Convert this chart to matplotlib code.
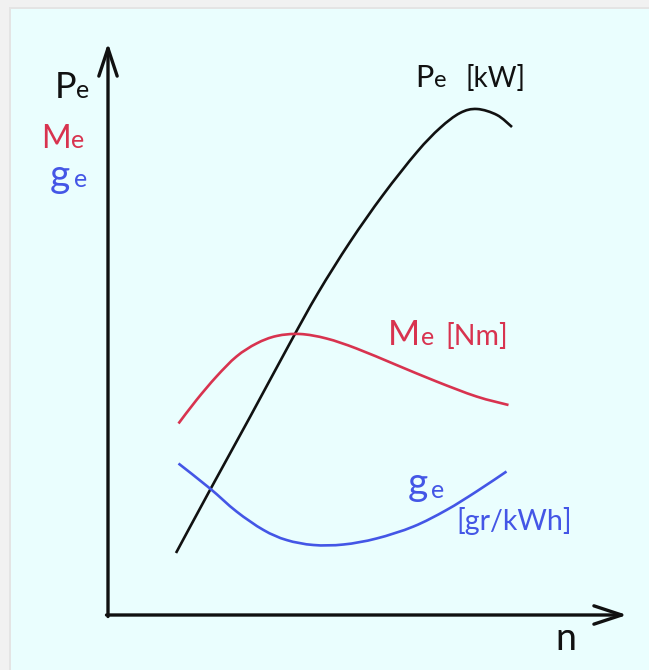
import matplotlib
matplotlib.use("Agg")
import matplotlib.pyplot as plt
import numpy as np
from matplotlib.patches import Rectangle, PathPatch
from matplotlib.path import Path

# ---- data (n in arbitrary units, values in arbitrary units) ----
pe_n = [13.6, 20.4, 28.4, 36.4, 42.0, 48.4, 55.0, 61.8, 66.4, 70.4, 73.8, 77.8, 80.8]
pe_v = [12.4, 25.0, 39.6, 54.4, 64.4, 74.6, 84.0, 92.6, 97.4, 100.4, 101.2, 100.0, 97.6]

me_n = [14.1, 17.7, 21.7, 25.7, 29.7, 33.7, 38.4, 43.7, 49.7, 57.7, 65.7, 73.7, 80.1]
me_v = [38.3, 43.0, 47.7, 51.7, 54.3, 55.8, 56.2, 55.3, 53.3, 50.0, 46.7, 43.7, 42.0]

ge_n = [14.1, 20.4, 25.7, 31.1, 35.7, 41.1, 47.1, 53.7, 61.1, 67.7, 73.7, 79.7]
ge_v = [30.3, 25.3, 20.7, 17.0, 15.0, 14.0, 14.1, 15.3, 17.7, 21.0, 24.7, 28.7]

BLACK = "#111111"
RED = "#d8334f"
BLUE = "#4456e6"
BG = "#eafefe"
FONT = "Lato"

fig = plt.figure(figsize=(6.49, 6.70), dpi=100)
fig.patch.set_facecolor("#f1f1f1")
# panel background
fig.patches.append(Rectangle((11 / 649, 0), 1, 1 - 9 / 670, transform=fig.transFigure,
                             facecolor=BG, edgecolor="none", zorder=-2))
fig.patches.append(Rectangle((9 / 649, 0), 2 / 649, 1 - 7 / 670, transform=fig.transFigure,
                             facecolor="#e4e4e4", edgecolor="none", zorder=-3))
fig.patches.append(Rectangle((9 / 649, 1 - 9 / 670), 1, 2 / 670, transform=fig.transFigure,
                             facecolor="#e4e4e4", edgecolor="none", zorder=-3))

ax = fig.add_axes([0, 0, 1, 1])
ax.set_facecolor("none")
ax.set_xlim(-21.6, 108.2)
ax.set_ylim(-11, 123)
ax.axis("off")

# axes with arrows
arrow = dict(arrowstyle="->,head_length=1.0,head_width=0.33", lw=2.4, color=BLACK,
             mutation_scale=20, shrinkA=0, shrinkB=0)
ax.annotate("", xy=(0, 114.4), xytext=(0, -0.3), arrowprops=arrow)
ax.annotate("", xy=(103.8, 0), xytext=(-0.3, 0), arrowprops=arrow)


def smooth_curve(xs, ys, color):
    """Smooth curve through the given points (Catmull-Rom drawn as Bezier path)."""
    p = np.column_stack([xs, ys]).astype(float)
    ext = np.vstack([p[0], p, p[-1]])
    verts = [tuple(p[0])]
    codes = [Path.MOVETO]
    for i in range(len(p) - 1):
        p0, p1, p2, p3 = ext[i], ext[i + 1], ext[i + 2], ext[i + 3]
        c1 = p1 + (p2 - p0) / 6.0
        c2 = p2 - (p3 - p1) / 6.0
        verts += [tuple(c1), tuple(c2), tuple(p2)]
        codes += [Path.CURVE4] * 3
    ax.add_patch(PathPatch(Path(verts, codes), facecolor="none", edgecolor=color,
                           lw=1.9, capstyle="butt"))


smooth_curve(pe_n, pe_v, BLACK)
smooth_curve(me_n, me_v, RED)
smooth_curve(ge_n, ge_v, BLUE)


def px(x, y):
    """pixel position (from top-left) -> data position"""
    return (x - 108) / 5.0, (615 - y) / 5.0


def lab(x, y, s, c, size):
    dx, dy = px(x, y)
    ax.text(dx, dy, s, color=c, fontsize=size, family=FONT, ha="left", va="baseline")


# y-axis labels
lab(55, 98, "P", BLACK, 26)
lab(76, 98, "e", BLACK, 18)
lab(41, 148, "M", RED, 23)
lab(71, 148, "e", RED, 18)
lab(50, 187, "g", BLUE, 28)
lab(74, 187, "e", BLUE, 18)

# curve labels
lab(415, 87, "P", BLACK, 22)
lab(434, 87, "e", BLACK, 17)
lab(466, 87, "[kW]", BLACK, 20)

lab(388, 345, "M", RED, 25)
lab(421, 345, "e", RED, 18)
lab(445, 345, "[Nm]", RED, 20.5)

lab(408, 495, "g", BLUE, 28)
lab(431, 498, "e", BLUE, 18)
lab(456, 530, "[gr/kWh]", BLUE, 20.5)

lab(555, 650, "n", BLACK, 27)

fig.savefig("out.png", dpi=100, facecolor=fig.get_facecolor())
